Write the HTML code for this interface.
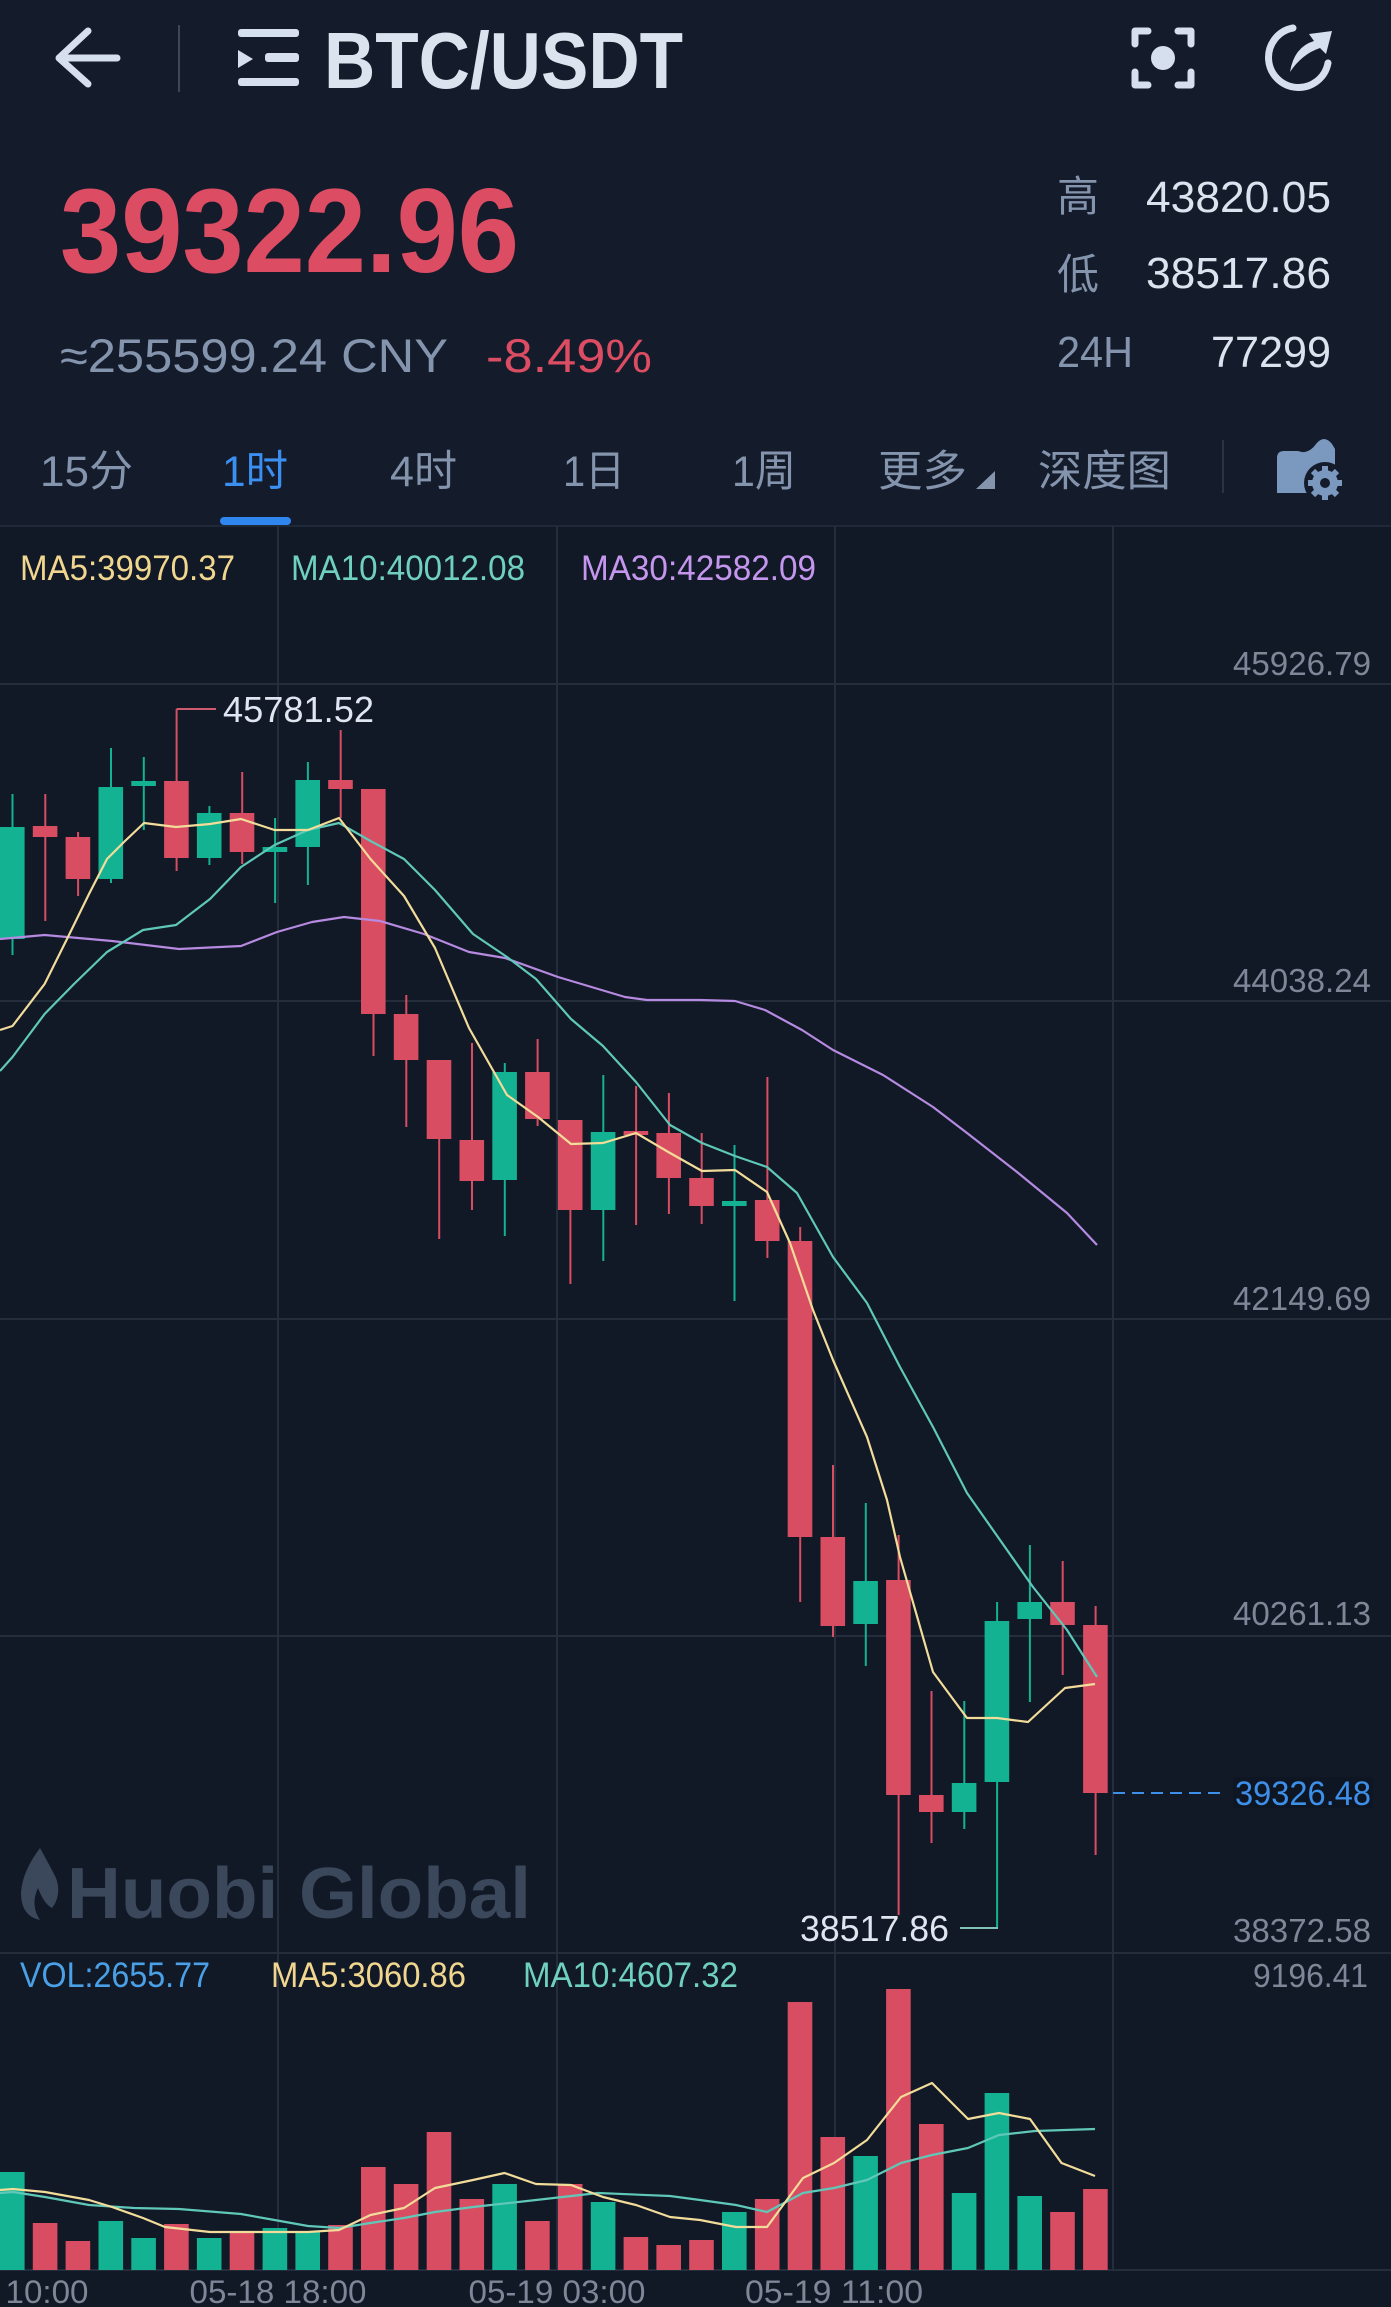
<!DOCTYPE html>
<html><head><meta charset="utf-8"><style>
html,body{margin:0;padding:0;background:#121927;}
svg{display:block;}
text{font-family:"Liberation Sans","Noto Sans CJK SC",sans-serif;}
</style></head><body>
<svg width="1391" height="2307" viewBox="0 0 1391 2307" xmlns="http://www.w3.org/2000/svg">
<rect x="0" y="0" width="1391" height="526" fill="#141b2b"/>
<rect x="0" y="526" width="1391" height="1781" fill="#111826"/>

<!-- header -->
<path d="M88,31 L59,58 L88,84 M59,58 L117,58" stroke="#d6dfee" stroke-width="7" fill="none" stroke-linecap="round" stroke-linejoin="round"/>
<line x1="179" y1="25" x2="179" y2="92" stroke="#3c4759" stroke-width="2"/>
<rect x="238" y="29" width="61" height="8" rx="3" fill="#d6dfee"/>
<path d="M238,50 L253,59 L238,68 Z" fill="#d6dfee"/>
<rect x="265" y="53" width="34" height="9" rx="3" fill="#d6dfee"/>
<rect x="238" y="78" width="61" height="8" rx="3" fill="#d6dfee"/>
<text x="324" y="88" font-size="80" font-weight="bold" fill="#dbe3ef" textLength="359" lengthAdjust="spacingAndGlyphs">BTC/USDT</text>

<g stroke="#d6dfee" stroke-width="7" fill="none" stroke-linecap="round" stroke-linejoin="round">
<path d="M1135,44 L1135,31 L1148,31"/>
<path d="M1178,31 L1191,31 L1191,44"/>
<path d="M1135,72 L1135,85 L1148,85"/>
<path d="M1178,85 L1191,85 L1191,72"/>
<path d="M1293,28 A30,30 0 1,0 1328,63"/>
</g>
<circle cx="1163" cy="58" r="12" fill="#d6dfee"/>
<path d="M1290,72 Q1294,47 1314,41 L1309,34 L1332,31 L1326,54 L1320,48 Q1302,54 1290,72 Z" fill="#d6dfee"/>

<!-- price -->
<text x="60" y="272" font-size="120" font-weight="bold" fill="#dc4d64" textLength="459" lengthAdjust="spacingAndGlyphs">39322.96</text>
<text x="60" y="372" font-size="47" fill="#8494ad" textLength="388" lengthAdjust="spacingAndGlyphs">≈255599.24 CNY</text>
<text x="486" y="372" font-size="47" fill="#dc4d64" textLength="166" lengthAdjust="spacingAndGlyphs">-8.49%</text>

<text x="1057" y="211" font-size="42" fill="#8494ad">高</text>
<text x="1331" y="212" font-size="44" fill="#dbe3ef" text-anchor="end" textLength="185" lengthAdjust="spacingAndGlyphs">43820.05</text>
<text x="1057" y="289" font-size="42" fill="#8494ad">低</text>
<text x="1331" y="288" font-size="44" fill="#dbe3ef" text-anchor="end" textLength="185" lengthAdjust="spacingAndGlyphs">38517.86</text>
<text x="1057" y="367" font-size="44" fill="#8494ad" textLength="76" lengthAdjust="spacingAndGlyphs">24H</text>
<text x="1331" y="367" font-size="44" fill="#dbe3ef" text-anchor="end" textLength="120" lengthAdjust="spacingAndGlyphs">77299</text>

<!-- tabs -->
<g font-size="43" fill="#8494ad">
<text x="40" y="486" textLength="93" lengthAdjust="spacingAndGlyphs">15分</text>
<text x="222" y="486" textLength="66" lengthAdjust="spacingAndGlyphs" fill="#3a8ff0">1时</text>
<text x="390" y="486" textLength="67" lengthAdjust="spacingAndGlyphs">4时</text>
<text x="563" y="486" textLength="62" lengthAdjust="spacingAndGlyphs">1日</text>
<text x="732" y="486" textLength="64" lengthAdjust="spacingAndGlyphs">1周</text>
<text x="878" y="486" textLength="89" lengthAdjust="spacingAndGlyphs">更多</text>
<text x="1038" y="486" textLength="133" lengthAdjust="spacingAndGlyphs">深度图</text>
</g>
<path d="M976,489 L995,489 L995,471 Z" fill="#8494ad"/>
<line x1="1223" y1="440" x2="1223" y2="493" stroke="#2a3446" stroke-width="2"/>
<path d="M1277,458 Q1277,451 1284,451 L1298,451 Q1308,455 1316,444 Q1324,434 1332,444 L1335,449 L1335,493 L1277,493 Z" fill="#7b98be"/>
<circle cx="1325" cy="483" r="21" fill="#141b2b"/>
<circle cx="1325" cy="483" r="13" fill="#7b98be"/>
<g stroke="#7b98be" stroke-width="6">
<line x1="1325" y1="466" x2="1325" y2="500"/>
<line x1="1308" y1="483" x2="1342" y2="483"/>
<line x1="1313" y1="471" x2="1337" y2="495"/>
<line x1="1337" y1="471" x2="1313" y2="495"/>
</g>
<circle cx="1325" cy="483" r="5" fill="#141b2b"/>
<rect x="220" y="517" width="71" height="8" rx="4" fill="#2f86ee"/>
<line x1="0" y1="526" x2="1391" y2="526" stroke="#1f2837" stroke-width="2"/>

<!-- grid -->
<g stroke="#242d3c" stroke-width="2">
<line x1="278" y1="526" x2="278" y2="2270"/>
<line x1="557" y1="526" x2="557" y2="2270"/>
<line x1="835" y1="526" x2="835" y2="2270"/>
<line x1="1113" y1="526" x2="1113" y2="2270"/>
<line x1="0" y1="684" x2="1391" y2="684"/>
<line x1="0" y1="1001" x2="1391" y2="1001"/>
<line x1="0" y1="1319" x2="1391" y2="1319"/>
<line x1="0" y1="1636" x2="1391" y2="1636"/>
<line x1="0" y1="1953" x2="1391" y2="1953"/>
<line x1="0" y1="2270" x2="1391" y2="2270"/>
</g>

<!-- watermark -->
<path d="M40,1848 Q22,1872 21,1893 Q21,1916 40,1920 Q30,1905 38,1888 Q44,1904 52,1908 Q62,1895 56,1878 Q50,1866 40,1848 Z" fill="#3b475b"/>
<text x="67" y="1918" font-size="72" font-weight="bold" fill="#3b475b" textLength="464" lengthAdjust="spacingAndGlyphs">Huobi Global</text>

<!-- legends -->
<g font-size="35">
<text x="20" y="580" fill="#f0d68e" textLength="215" lengthAdjust="spacingAndGlyphs">MA5:39970.37</text>
<text x="291" y="580" fill="#6fd0bd" textLength="234" lengthAdjust="spacingAndGlyphs">MA10:40012.08</text>
<text x="581" y="580" fill="#c596ee" textLength="235" lengthAdjust="spacingAndGlyphs">MA30:42582.09</text>
<text x="20" y="1987" fill="#4aa0e6" textLength="190" lengthAdjust="spacingAndGlyphs">VOL:2655.77</text>
<text x="271" y="1987" fill="#f0d68e" textLength="195" lengthAdjust="spacingAndGlyphs">MA5:3060.86</text>
<text x="523" y="1987" fill="#6fd0bd" textLength="215" lengthAdjust="spacingAndGlyphs">MA10:4607.32</text>
</g>

<!-- axis labels -->
<g font-size="33" fill="#7d8798" text-anchor="end">
<text x="1371" y="675" textLength="138" lengthAdjust="spacingAndGlyphs">45926.79</text>
<text x="1371" y="992" textLength="138" lengthAdjust="spacingAndGlyphs">44038.24</text>
<text x="1371" y="1310" textLength="138" lengthAdjust="spacingAndGlyphs">42149.69</text>
<text x="1371" y="1625" textLength="138" lengthAdjust="spacingAndGlyphs">40261.13</text>
<text x="1371" y="1942" textLength="138" lengthAdjust="spacingAndGlyphs">38372.58</text>
<text x="1368" y="1987" textLength="115" lengthAdjust="spacingAndGlyphs">9196.41</text>
</g>
<g font-size="32" fill="#7d8798" text-anchor="middle">
<text x="0" y="2303" textLength="177" lengthAdjust="spacingAndGlyphs">05-18 10:00</text>
<text x="278" y="2303" textLength="177" lengthAdjust="spacingAndGlyphs">05-18 18:00</text>
<text x="557" y="2303" textLength="177" lengthAdjust="spacingAndGlyphs">05-19 03:00</text>
<text x="834" y="2303" textLength="178" lengthAdjust="spacingAndGlyphs">05-19 11:00</text>
</g>

<!-- current price -->
<line x1="1113" y1="1793" x2="1222" y2="1793" stroke="#3d8fe8" stroke-width="2" stroke-dasharray="12 7"/>
<rect x="1233" y="1777" width="140" height="31" fill="#0f1623"/>
<text x="1371" y="1805" font-size="34" fill="#3d8fe8" text-anchor="end" textLength="136" lengthAdjust="spacingAndGlyphs">39326.48</text>

<!-- candles wicks -->
<g stroke-width="2">
<g stroke="#12b292">
<line x1="12.5" y1="794" x2="12.5" y2="955"/>
<line x1="111" y1="748" x2="111" y2="883"/>
<line x1="143.8" y1="757" x2="143.8" y2="830"/>
<line x1="209.4" y1="806" x2="209.4" y2="865"/>
<line x1="275.1" y1="818" x2="275.1" y2="903"/>
<line x1="307.9" y1="762" x2="307.9" y2="885"/>
<line x1="504.8" y1="1063" x2="504.8" y2="1236"/>
<line x1="603.3" y1="1075" x2="603.3" y2="1261"/>
<line x1="734.5" y1="1145" x2="734.5" y2="1301"/>
<line x1="865.8" y1="1503" x2="865.8" y2="1666"/>
<line x1="964.3" y1="1701" x2="964.3" y2="1829"/>
<line x1="997.1" y1="1602" x2="997.1" y2="1928"/>
<line x1="1029.9" y1="1545" x2="1029.9" y2="1702"/>
</g>
<g stroke="#d94d63">
<line x1="45.3" y1="794" x2="45.3" y2="921"/>
<line x1="78.1" y1="832" x2="78.1" y2="896"/>
<line x1="176.6" y1="709" x2="176.6" y2="871"/>
<line x1="242.2" y1="772" x2="242.2" y2="864"/>
<line x1="340.7" y1="730" x2="340.7" y2="818"/>
<line x1="373.5" y1="789" x2="373.5" y2="1056"/>
<line x1="406.3" y1="995" x2="406.3" y2="1127"/>
<line x1="439.2" y1="1060" x2="439.2" y2="1239"/>
<line x1="472" y1="1043" x2="472" y2="1210"/>
<line x1="537.6" y1="1039" x2="537.6" y2="1126"/>
<line x1="570.4" y1="1120" x2="570.4" y2="1284"/>
<line x1="636.1" y1="1086" x2="636.1" y2="1225"/>
<line x1="668.9" y1="1093" x2="668.9" y2="1214"/>
<line x1="701.7" y1="1133" x2="701.7" y2="1224"/>
<line x1="767.4" y1="1077" x2="767.4" y2="1258"/>
<line x1="800.2" y1="1227" x2="800.2" y2="1602"/>
<line x1="833" y1="1465" x2="833" y2="1637"/>
<line x1="898.6" y1="1535" x2="898.6" y2="1915"/>
<line x1="931.5" y1="1691" x2="931.5" y2="1843"/>
<line x1="1062.7" y1="1561" x2="1062.7" y2="1675"/>
<line x1="1095.6" y1="1606" x2="1095.6" y2="1855"/>
</g>
</g>
<!-- candle bodies -->
<g fill="#12b292">
<rect x="0" y="827" width="24.6" height="112"/>
<rect x="98.5" y="787" width="24.6" height="92"/>
<rect x="131.3" y="781" width="24.6" height="5"/>
<rect x="196.9" y="813" width="24.6" height="45"/>
<rect x="262.6" y="847" width="24.6" height="5"/>
<rect x="295.4" y="780" width="24.6" height="67"/>
<rect x="492.3" y="1072" width="24.6" height="108"/>
<rect x="590.8" y="1132" width="24.6" height="78"/>
<rect x="722" y="1201" width="24.6" height="5"/>
<rect x="853.3" y="1581" width="24.6" height="43"/>
<rect x="951.8" y="1783" width="24.6" height="29"/>
<rect x="984.6" y="1621" width="24.6" height="161"/>
<rect x="1017.4" y="1602" width="24.6" height="17"/>
</g>
<g fill="#d94d63">
<rect x="32.8" y="826" width="24.6" height="11"/>
<rect x="65.6" y="837" width="24.6" height="42"/>
<rect x="164.1" y="781" width="24.6" height="77"/>
<rect x="229.7" y="813" width="24.6" height="39"/>
<rect x="328.2" y="780" width="24.6" height="9"/>
<rect x="361" y="789" width="24.6" height="225"/>
<rect x="393.8" y="1014" width="24.6" height="46"/>
<rect x="426.7" y="1060" width="24.6" height="79"/>
<rect x="459.5" y="1140" width="24.6" height="41"/>
<rect x="525.1" y="1072" width="24.6" height="47"/>
<rect x="557.9" y="1120" width="24.6" height="90"/>
<rect x="623.6" y="1131" width="24.6" height="4"/>
<rect x="656.4" y="1133" width="24.6" height="45"/>
<rect x="689.2" y="1178" width="24.6" height="28"/>
<rect x="754.9" y="1200" width="24.6" height="41"/>
<rect x="787.7" y="1241" width="24.6" height="296"/>
<rect x="820.5" y="1537" width="24.6" height="89"/>
<rect x="886.1" y="1580" width="24.6" height="215"/>
<rect x="919" y="1795" width="24.6" height="17"/>
<rect x="1050.2" y="1602" width="24.6" height="23"/>
<rect x="1083.1" y="1625" width="24.6" height="168"/>
</g>

<!-- MA lines -->
<g fill="none" stroke-width="2.2" stroke-linejoin="round">
<polyline stroke="#b58ae0" points="0,939 44.6,935 112,941 179,949 241,946 277,932 312,922 344,917 380,921 424,934 469,952 505,958 558,977 625,997 647,1000 700,1000 735,1001 765,1010 802,1030 833,1050 883,1075 933,1107 967,1133 1017,1172 1067,1213 1097,1245"/>
<polyline stroke="#5fc8b8" points="0,1071 12.5,1057 44.6,1014 74,984 107,952 143,930 176,925 210,899 241,867 274.5,845 308,830 339,823 370.5,841 404,859 435,890 473,934 507,957 536,979 571,1019 603,1046 636,1082 670,1125 702,1143 735,1156 767,1167 797,1193 833,1257 867,1303 900,1367 933,1427 967,1493 1000,1540 1033,1587 1067,1630 1097,1677"/>
<polyline stroke="#f2dc9a" points="0,1030 12.5,1026 44.6,984 67,939 89,894 107,859 125,841 144,823 176,827 210,824 241,819 274.5,830 308,830 339,818 370.5,859 404,896 435,948 469,1028 507,1095 538,1117 571,1144 603,1143 636,1133 670,1153 702,1171 735,1170 767,1192 790,1243 813,1310 833,1360 867,1437 887,1500 900,1557 933,1672 967,1718 997,1718 1028,1722 1065,1688 1095,1684"/>
</g>

<!-- high / low markers -->
<line x1="176.6" y1="709" x2="216" y2="709" stroke="#d05a6e" stroke-width="2"/>
<text x="223" y="722" font-size="36" fill="#dfe6f0" textLength="151" lengthAdjust="spacingAndGlyphs">45781.52</text>
<line x1="960" y1="1928" x2="998" y2="1928" stroke="#7fc1b4" stroke-width="2"/>
<text x="800" y="1941" font-size="36" fill="#dfe6f0" textLength="149" lengthAdjust="spacingAndGlyphs">38517.86</text>

<!-- volume bars -->
<g fill="#12b292">
<rect x="0" y="2172" width="24.6" height="98"/>
<rect x="98.5" y="2221" width="24.6" height="49"/>
<rect x="131.3" y="2238" width="24.6" height="32"/>
<rect x="196.9" y="2238" width="24.6" height="32"/>
<rect x="262.6" y="2228" width="24.6" height="42"/>
<rect x="295.4" y="2232" width="24.6" height="38"/>
<rect x="492.3" y="2184" width="24.6" height="86"/>
<rect x="590.8" y="2202" width="24.6" height="68"/>
<rect x="722" y="2212" width="24.6" height="58"/>
<rect x="853.3" y="2156" width="24.6" height="114"/>
<rect x="951.8" y="2193" width="24.6" height="77"/>
<rect x="984.6" y="2093" width="24.6" height="177"/>
<rect x="1017.4" y="2196" width="24.6" height="74"/>
</g>
<g fill="#d94d63">
<rect x="32.8" y="2223" width="24.6" height="47"/>
<rect x="65.6" y="2241" width="24.6" height="29"/>
<rect x="164.1" y="2224" width="24.6" height="46"/>
<rect x="229.7" y="2233" width="24.6" height="37"/>
<rect x="328.2" y="2225" width="24.6" height="45"/>
<rect x="361" y="2167" width="24.6" height="103"/>
<rect x="393.8" y="2184" width="24.6" height="86"/>
<rect x="426.7" y="2132" width="24.6" height="138"/>
<rect x="459.5" y="2199" width="24.6" height="71"/>
<rect x="525.1" y="2221" width="24.6" height="49"/>
<rect x="557.9" y="2184" width="24.6" height="86"/>
<rect x="623.6" y="2237" width="24.6" height="33"/>
<rect x="656.4" y="2245" width="24.6" height="25"/>
<rect x="689.2" y="2240" width="24.6" height="30"/>
<rect x="754.9" y="2199" width="24.6" height="71"/>
<rect x="787.7" y="2002" width="24.6" height="268"/>
<rect x="820.5" y="2137" width="24.6" height="133"/>
<rect x="886.1" y="1989" width="24.6" height="281"/>
<rect x="919" y="2124" width="24.6" height="146"/>
<rect x="1050.2" y="2212" width="24.6" height="58"/>
<rect x="1083.1" y="2189" width="24.6" height="81"/>
</g>
<g fill="none" stroke-width="2.2" stroke-linejoin="round">
<polyline stroke="#5fc8b8" points="0,2193 13,2192 45,2197 89,2205 134,2208 179,2209 241,2214 274.5,2220 308,2226 339,2228 370.5,2223 404,2218 435,2212 473,2207 536,2200 598,2193 670,2196 700,2200 736,2205 767,2212 803,2193 834,2188 867,2180 901,2163 932,2155 968,2148 999,2135 1035,2131 1095,2129"/>
<polyline stroke="#f2dc9a" points="0,2190 13,2189 45,2192 89,2200 112,2207 143,2218 165,2227 210,2232 241,2232 274.5,2232 308,2232 339,2230 370.5,2215 404,2208 435,2188 473,2180 504.5,2173 536,2184 571,2185 603,2197 636,2205 670,2217 700,2220 736,2227 767,2227 803,2178 834,2163 867,2140 901,2097 932,2083 968,2119 999,2113 1030,2119 1061.5,2163 1095,2176"/>
</g>
</svg>
</body></html>
